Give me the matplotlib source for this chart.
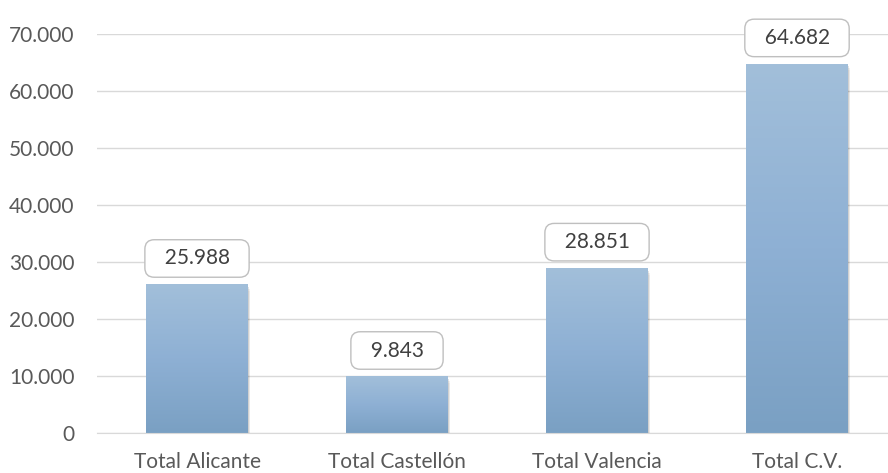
import matplotlib.pyplot as plt
import matplotlib.colors as mcolors
import numpy as np
from matplotlib.patches import Rectangle

categories = ["Total Alicante", "Total Castellón", "Total Valencia", "Total C.V."]
values = [25988, 9843, 28851, 64682]
yticks = [0, 10000, 20000, 30000, 40000, 50000, 60000, 70000]


def fmt(v):
    return f"{v:,.0f}".replace(",", ".")


plt.rcParams['font.family'] = ['Lato', 'DejaVu Sans']

fig = plt.figure(figsize=(8.88, 4.73), dpi=100)
ax = fig.add_axes([97 / 888, 40 / 473, 791 / 888, 399 / 473])

x = np.arange(len(categories))
bars = ax.bar(x, values, width=0.51, color="none", zorder=3)

# vertical gradient, light on top, darker at bottom
cmap = mcolors.LinearSegmentedColormap.from_list(
    "bar", ["#7aa0c3", "#8eb0d4", "#a2bfda"])
grad = np.linspace(0, 1, 256).reshape(-1, 1)
for b in bars:
    x0, w, h = b.get_x(), b.get_width(), b.get_height()
    # soft shadow to the right/bottom
    for i, a in enumerate([0.10, 0.06, 0.03]):
        sh = Rectangle((x0 + 0.004 * (i + 1), -350 * (i + 1)), w, h,
                       color="#000000", alpha=a, lw=0, zorder=2)
        ax.add_patch(sh)
    ax.imshow(grad, cmap=cmap, aspect="auto", origin="lower",
              extent=(x0, x0 + w, 0, h), zorder=4)
    ax.annotate(f"  {fmt(h)}  ", (x0 + w / 2, h), xytext=(0, 19),
                textcoords="offset points", ha="center", va="center",
                fontsize=15, color="#404040", zorder=6,
                bbox=dict(boxstyle="round,pad=0.42,rounding_size=0.45",
                          fc="white", ec="#bfbfbf", lw=1))

ax.set_xlim(-0.5, 3.455)
ax.set_ylim(0, 70000)
ax.set_yticks(yticks)
ax.set_yticklabels([fmt(v) for v in yticks])
ax.set_xticks(x)
ax.set_xticklabels(categories)
ax.tick_params(length=0, labelsize=15, colors="#595959")
ax.tick_params(axis="y", pad=16)
ax.tick_params(axis="x", pad=14)
ax.grid(axis="y", color="#d9d9d9", lw=1, zorder=0)
for s in ["top", "right", "left"]:
    ax.spines[s].set_visible(False)
ax.spines["bottom"].set_color("#d9d9d9")
ax.spines["bottom"].set_zorder(5)

fig.savefig("out.png", dpi=100)
